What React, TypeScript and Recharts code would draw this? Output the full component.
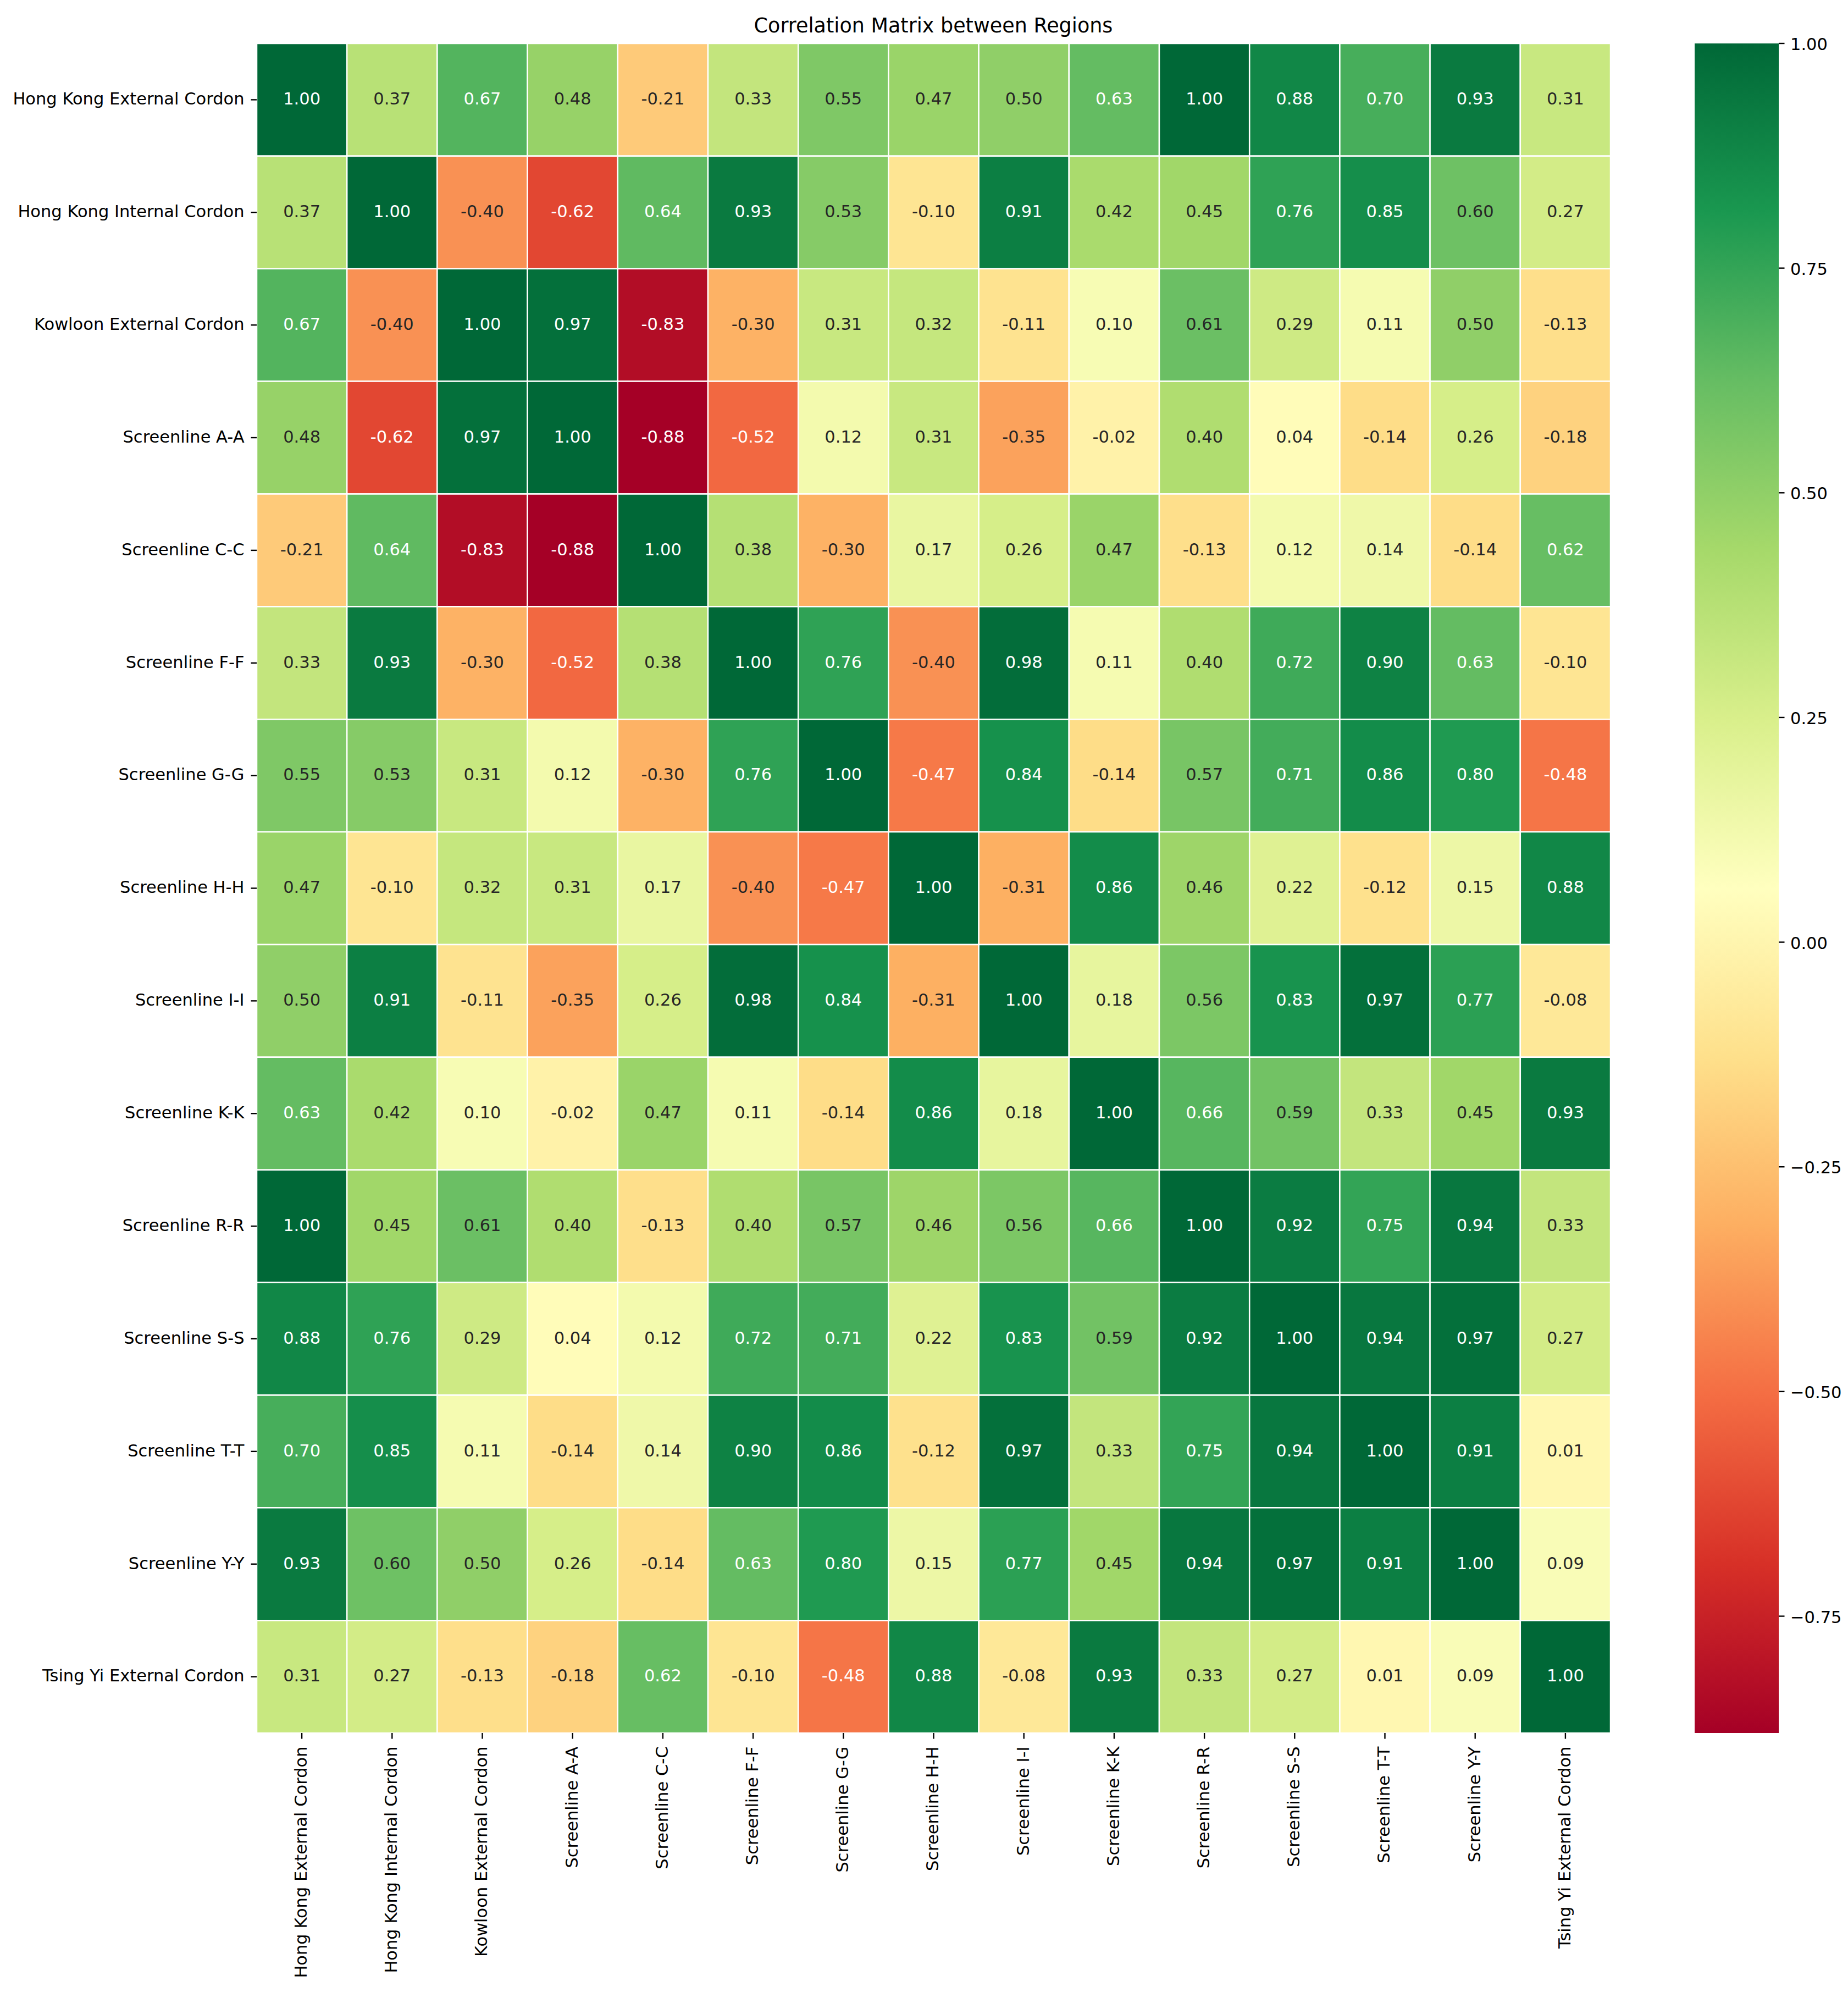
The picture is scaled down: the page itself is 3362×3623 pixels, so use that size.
import {
  ScatterChart,
  Scatter,
  XAxis,
  YAxis,
  ReferenceArea,
  ComposedChart,
  Bar,
} from 'recharts'

const FONT = '"DejaVu Sans", Verdana, sans-serif'

// ---- Data ----

const REGIONS = [
  'Hong Kong External Cordon',
  'Hong Kong Internal Cordon',
  'Kowloon External Cordon',
  'Screenline A-A',
  'Screenline C-C',
  'Screenline F-F',
  'Screenline G-G',
  'Screenline H-H',
  'Screenline I-I',
  'Screenline K-K',
  'Screenline R-R',
  'Screenline S-S',
  'Screenline T-T',
  'Screenline Y-Y',
  'Tsing Yi External Cordon',
]

// one row per region, columns in the same order as REGIONS
const HK_EXTERNAL = [1.0, 0.37, 0.67, 0.48, -0.21, 0.33, 0.55, 0.47, 0.5, 0.63, 1.0, 0.88, 0.7, 0.93, 0.31]
const HK_INTERNAL = [0.37, 1.0, -0.4, -0.62, 0.64, 0.93, 0.53, -0.1, 0.91, 0.42, 0.45, 0.76, 0.85, 0.6, 0.27]
const KOWLOON_EXTERNAL = [0.67, -0.4, 1.0, 0.97, -0.83, -0.3, 0.31, 0.32, -0.11, 0.1, 0.61, 0.29, 0.11, 0.5, -0.13]
const SCREEN_AA = [0.48, -0.62, 0.97, 1.0, -0.88, -0.52, 0.12, 0.31, -0.35, -0.02, 0.4, 0.04, -0.14, 0.26, -0.18]
const SCREEN_CC = [-0.21, 0.64, -0.83, -0.88, 1.0, 0.38, -0.3, 0.17, 0.26, 0.47, -0.13, 0.12, 0.14, -0.14, 0.62]
const SCREEN_FF = [0.33, 0.93, -0.3, -0.52, 0.38, 1.0, 0.76, -0.4, 0.98, 0.11, 0.4, 0.72, 0.9, 0.63, -0.1]
const SCREEN_GG = [0.55, 0.53, 0.31, 0.12, -0.3, 0.76, 1.0, -0.47, 0.84, -0.14, 0.57, 0.71, 0.86, 0.8, -0.48]
const SCREEN_HH = [0.47, -0.1, 0.32, 0.31, 0.17, -0.4, -0.47, 1.0, -0.31, 0.86, 0.46, 0.22, -0.12, 0.15, 0.88]
const SCREEN_II = [0.5, 0.91, -0.11, -0.35, 0.26, 0.98, 0.84, -0.31, 1.0, 0.18, 0.56, 0.83, 0.97, 0.77, -0.08]
const SCREEN_KK = [0.63, 0.42, 0.1, -0.02, 0.47, 0.11, -0.14, 0.86, 0.18, 1.0, 0.66, 0.59, 0.33, 0.45, 0.93]
const SCREEN_RR = [1.0, 0.45, 0.61, 0.4, -0.13, 0.4, 0.57, 0.46, 0.56, 0.66, 1.0, 0.92, 0.75, 0.94, 0.33]
const SCREEN_SS = [0.88, 0.76, 0.29, 0.04, 0.12, 0.72, 0.71, 0.22, 0.83, 0.59, 0.92, 1.0, 0.94, 0.97, 0.27]
const SCREEN_TT = [0.7, 0.85, 0.11, -0.14, 0.14, 0.9, 0.86, -0.12, 0.97, 0.33, 0.75, 0.94, 1.0, 0.91, 0.01]
const SCREEN_YY = [0.93, 0.6, 0.5, 0.26, -0.14, 0.63, 0.8, 0.15, 0.77, 0.45, 0.94, 0.97, 0.91, 1.0, 0.09]
const TSING_YI_EXTERNAL = [0.31, 0.27, -0.13, -0.18, 0.62, -0.1, -0.48, 0.88, -0.08, 0.93, 0.33, 0.27, 0.01, 0.09, 1.0]

const MATRIX = [
  HK_EXTERNAL,
  HK_INTERNAL,
  KOWLOON_EXTERNAL,
  SCREEN_AA,
  SCREEN_CC,
  SCREEN_FF,
  SCREEN_GG,
  SCREEN_HH,
  SCREEN_II,
  SCREEN_KK,
  SCREEN_RR,
  SCREEN_SS,
  SCREEN_TT,
  SCREEN_YY,
  TSING_YI_EXTERNAL,
]

const V_MIN = -0.88
const V_MAX = 1.0
const COLORBAR_TICKS = [-0.75, -0.5, -0.25, 0, 0.25, 0.5, 0.75, 1.0]

// RdYlGn (ColorBrewer, 11 classes), low -> high
const RDYLGN = [
  '#a50026', '#d73027', '#f46d43', '#fdae61', '#fee08b', '#ffffbf',
  '#d9ef8b', '#a6d96a', '#66bd63', '#1a9850', '#006837',
]

// ---- Colour helpers ----

function hexToRgb(hex: string): number[] {
  const n = parseInt(hex.slice(1), 16)
  return [(n >> 16) & 255, (n >> 8) & 255, n & 255]
}

function colorFor(v: number): number[] {
  let t = (v - V_MIN) / (V_MAX - V_MIN)
  t = Math.max(0, Math.min(1, t))
  const pos = t * (RDYLGN.length - 1)
  const i = Math.min(Math.floor(pos), RDYLGN.length - 2)
  const f = pos - i
  const a = hexToRgb(RDYLGN[i])
  const b = hexToRgb(RDYLGN[i + 1])
  return a.map((c, k) => Math.round(c + (b[k] - c) * f))
}

function rgbString(rgb: number[]) {
  return `rgb(${rgb[0]},${rgb[1]},${rgb[2]})`
}

// same rule seaborn uses to pick annotation colour
function luminance(rgb: number[]) {
  const lin = rgb.map((c) => {
    const s = c / 255
    return s <= 0.03928 ? s / 12.92 : Math.pow((s + 0.055) / 1.055, 2.4)
  })
  return 0.2126 * lin[0] + 0.7152 * lin[1] + 0.0722 * lin[2]
}

interface Cell {
  x: number
  y: number
  row: number
  col: number
  value: number
}

const CELLS: Cell[] = MATRIX.flatMap((row, r) =>
  row.map((value, c) => ({ x: c + 0.5, y: r + 0.5, row: r, col: c, value })),
)

const CELL_TICKS = REGIONS.map((_, i) => i + 0.5)

const COLORBAR_DATA = [{ name: 'scale', range: [V_MIN, V_MAX] }]

// ---- Ticks and annotations ----

const LABEL_SIZE = 30.5

function renderXTick(props: any) {
  const { x, y, payload } = props
  const label = REGIONS[Math.floor(payload.value)]
  return (
    <text
      x={x}
      y={y}
      dy="0.29em"
      transform={`rotate(-90 ${x} ${y})`}
      textAnchor="end"
      fontFamily={FONT}
      fontSize={LABEL_SIZE}
      fill="#000"
    >
      {label}
    </text>
  )
}

function renderYTick(props: any) {
  const { x, y, payload } = props
  const label = REGIONS[Math.floor(payload.value)]
  return (
    <text x={x} y={y} dy="0.29em" textAnchor="end" fontFamily={FONT} fontSize={LABEL_SIZE} fill="#000">
      {label}
    </text>
  )
}

function renderColorbarTick(props: any) {
  const { x, y, payload } = props
  const v = payload.value as number
  const txt = (v < 0 ? '\u2212' : '') + Math.abs(v).toFixed(2)
  return (
    <text x={x} y={y} dy="0.4em" textAnchor="start" fontFamily={FONT} fontSize={LABEL_SIZE} fill="#000">
      {txt}
    </text>
  )
}

function renderAnnotation(props: any) {
  const { cx, cy, payload } = props
  const v = payload.value as number
  const lum = luminance(colorFor(v))
  return (
    <text
      x={cx}
      y={cy}
      dy="0.29em"
      textAnchor="middle"
      fontFamily={FONT}
      fontSize={LABEL_SIZE}
      fill={lum > 0.408 ? '#262626' : '#ffffff'}
    >
      {v.toFixed(2)}
    </text>
  )
}

// ---- Charts ----

const TICK_LINE = { stroke: '#000', strokeWidth: 2.4 }

function Heatmap() {
  return (
    <ScatterChart
      width={3362}
      height={3623}
      margin={{ top: 79, right: 432, bottom: 21, left: 17 }}
    >
      <XAxis
        type="number"
        dataKey="x"
        domain={[0, 15]}
        ticks={CELL_TICKS}
        interval={0}
        height={450}
        axisLine={false}
        tickLine={TICK_LINE}
        tickSize={10.5}
        tickMargin={14}
        tick={renderXTick}
      />
      <YAxis
        type="number"
        dataKey="y"
        domain={[0, 15]}
        reversed
        ticks={CELL_TICKS}
        interval={0}
        width={450}
        axisLine={false}
        tickLine={TICK_LINE}
        tickSize={10.5}
        tickMargin={12}
        tick={renderYTick}
      />
      {CELLS.map((c) => (
        <ReferenceArea
          key={`cell-${c.row}-${c.col}`}
          x1={c.col}
          x2={c.col + 1}
          y1={c.row}
          y2={c.row + 1}
          fill={rgbString(colorFor(c.value))}
          fillOpacity={1}
          stroke="#ffffff"
          strokeWidth={2.5}
        />
      ))}
      <Scatter data={CELLS} isAnimationActive={false} shape={renderAnnotation} />
    </ScatterChart>
  )
}

function Colorbar() {
  return (
    <ComposedChart
      width={279}
      height={3623}
      data={COLORBAR_DATA}
      margin={{ top: 79, right: 0, bottom: 471, left: 0 }}
      barCategoryGap={0}
      barGap={0}
    >
      <defs>
        <linearGradient id="rdylgn" x1="0" y1="0" x2="0" y2="1">
          {RDYLGN.map((_, k) => {
            const idx = RDYLGN.length - 1 - k
            return (
              <stop
                key={`stop-${k}`}
                offset={k / (RDYLGN.length - 1)}
                stopColor={RDYLGN[idx]}
              />
            )
          })}
        </linearGradient>
      </defs>
      <XAxis dataKey="name" type="category" hide />
      <YAxis
        orientation="right"
        type="number"
        domain={[V_MIN, V_MAX]}
        ticks={COLORBAR_TICKS}
        interval={0}
        width={126}
        axisLine={false}
        tickLine={TICK_LINE}
        tickSize={10.5}
        tickMargin={10.5}
        tick={renderColorbarTick}
      />
      <Bar dataKey="range" fill="url(#rdylgn)" isAnimationActive={false} />
    </ComposedChart>
  )
}

export default function App() {
  return (
    <div style={{ position: 'relative', width: 3362, height: 3623, background: '#fff' }}>
      <style>{'body{margin:0;background:#fff}'}</style>
      <svg
        width={3362}
        height={79}
        style={{ position: 'absolute', left: 0, top: 0 }}
      >
        <text x={1698} y={59} textAnchor="middle" fontFamily={FONT} fontSize={36.5} fill="#000">
          Correlation Matrix between Regions
        </text>
      </svg>
      <div style={{ position: 'absolute', left: 0, top: 0 }}>
        <Heatmap />
      </div>
      <div style={{ position: 'absolute', left: 3083, top: 0 }}>
        <Colorbar />
      </div>
    </div>
  )
}
